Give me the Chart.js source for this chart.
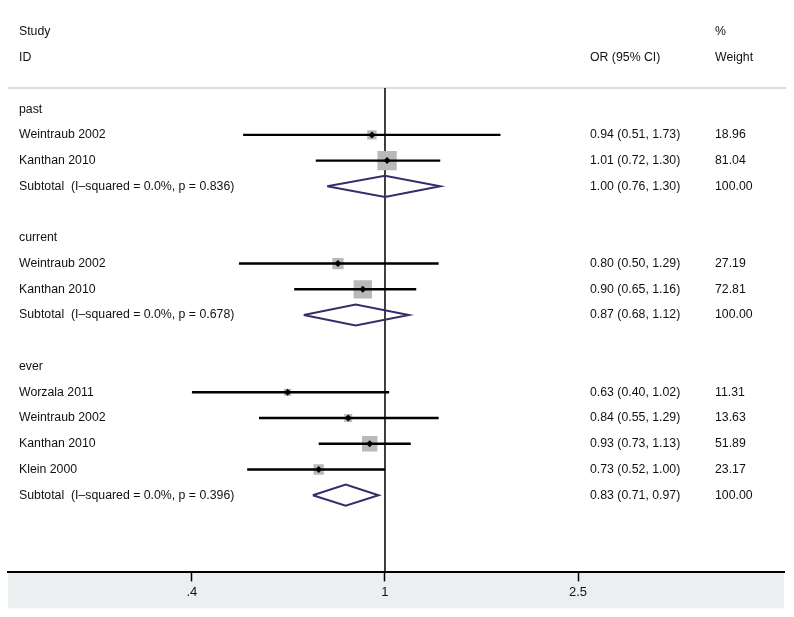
<!DOCTYPE html>
<html>
<head>
<meta charset="utf-8">
<script src="https://cdn.jsdelivr.net/npm/chart.js@4"></script>
<style>
  html, body { margin: 0; padding: 0; background: #fff; }
</style>
</head>
<body>
<canvas id="myChart" width="794" height="617"></canvas>
<script>
  // rows of the forest plot, top to bottom (first one sits at row 3)
  const rowLabels = [
    "past", "Weintraub 2002", "Kanthan 2010", "Subtotal  (I\u2013squared = 0.0%, p = 0.836)", "",
    "current", "Weintraub 2002", "Kanthan 2010", "Subtotal  (I\u2013squared = 0.0%, p = 0.678)", "",
    "ever", "Worzala 2011", "Weintraub 2002", "Kanthan 2010", "Klein 2000", "Subtotal  (I\u2013squared = 0.0%, p = 0.396)"
  ];
  const rowTypes = [
    "group", "study", "study", "subtotal", "blank",
    "group", "study", "study", "subtotal", "blank",
    "group", "study", "study", "study", "study", "subtotal"
  ];
  const orValues = [null, 0.94, 1.01, 1.00, null, null, 0.80, 0.90, 0.87, null, null, 0.63, 0.84, 0.93, 0.73, 0.83];
  const ciLower  = [null, 0.51, 0.72, 0.76, null, null, 0.50, 0.65, 0.68, null, null, 0.40, 0.55, 0.73, 0.52, 0.71];
  const ciUpper  = [null, 1.73, 1.30, 1.30, null, null, 1.29, 1.16, 1.12, null, null, 1.02, 1.29, 1.13, 1.00, 0.97];
  const weights  = [null, 18.96, 81.04, 100.00, null, null, 27.19, 72.81, 100.00, null, null, 11.31, 13.63, 51.89, 23.17, 100.00];

  const xTicks = [0.4, 1, 2.5];
  const xTickLabels = [".4", "1", "2.5"];

  const firstRow = 3;
  const sepRow = 2.18;
  const FONT = '"Liberation Sans", Arial, Helvetica, sans-serif';

  const whiskers = [];
  const squares = [];
  const squareSizes = [];
  const markers = [];
  const diamonds = [];
  rowTypes.forEach((t, i) => {
    const y = firstRow + i;
    if (t === "study") {
      whiskers.push({ x: ciLower[i], y: y }, { x: ciUpper[i], y: y }, { x: NaN, y: NaN });
      squares.push({ x: orValues[i], y: y });
      squareSizes.push(1.52 * Math.sqrt(weights[i]));
      markers.push({ x: orValues[i], y: y });
    } else if (t === "subtotal") {
      diamonds.push(
        { x: ciLower[i], y: y },
        { x: orValues[i], y: y - 0.41 },
        { x: ciUpper[i], y: y },
        { x: orValues[i], y: y + 0.41 },
        { x: ciLower[i], y: y },
        { x: NaN, y: NaN }
      );
    }
  });

  const forestText = {
    id: "forestText",
    beforeDraw(chart) {
      const ctx = chart.ctx;
      const a = chart.chartArea;
      const ys = chart.scales.y;
      ctx.save();
      ctx.fillStyle = "#eceff0";
      ctx.fillRect(a.left, a.bottom, a.right - a.left, 36);
      ctx.strokeStyle = "#d2d2d2";
      ctx.lineWidth = 1.5;
      const sy = ys.getPixelForValue(sepRow);
      ctx.beginPath();
      ctx.moveTo(a.left, sy);
      ctx.lineTo(a.right + 2, sy);
      ctx.stroke();
      ctx.restore();
    },
    afterDatasetsDraw(chart) {
      const ctx = chart.ctx;
      const ys = chart.scales.y;
      ctx.save();
      ctx.fillStyle = "#111";
      ctx.font = "12.3px " + FONT;
      ctx.textBaseline = "middle";
      ctx.textAlign = "left";
      const colStudy = 19, colOr = 590, colW = 715;
      ctx.fillText("Study", colStudy, ys.getPixelForValue(0));
      ctx.fillText("ID", colStudy, ys.getPixelForValue(1));
      ctx.fillText("OR (95% CI)", colOr, ys.getPixelForValue(1));
      ctx.fillText("%", colW, ys.getPixelForValue(0));
      ctx.fillText("Weight", colW, ys.getPixelForValue(1));
      rowLabels.forEach((lab, i) => {
        const y = ys.getPixelForValue(firstRow + i);
        if (lab) ctx.fillText(lab, colStudy, y);
        if (orValues[i] !== null) {
          ctx.fillText(orValues[i].toFixed(2) + " (" + ciLower[i].toFixed(2) + ", " + ciUpper[i].toFixed(2) + ")", colOr, y);
          ctx.fillText(weights[i].toFixed(2), colW, y);
        }
      });
      ctx.restore();
    }
  };

  const ctx = document.getElementById("myChart").getContext("2d");
  const myChart = new Chart(ctx, {
    type: "scatter",
    data: {
      datasets: [
        {
          data: [{ x: 1, y: sepRow }, { x: 1, y: 21 }],
          showLine: true,
          borderColor: "#111",
          borderWidth: 1.6,
          pointRadius: 0,
          order: 5,
        },
        {
          data: squares,
          pointStyle: "rect",
          pointRadius: squareSizes,
          backgroundColor: "#b9b9b9",
          borderWidth: 0,
          order: 4,
        },
        {
          data: whiskers,
          showLine: true,
          spanGaps: false,
          borderColor: "#000",
          borderWidth: 2.4,
          pointRadius: 0,
          order: 3,
        },
        {
          data: diamonds,
          showLine: true,
          spanGaps: false,
          borderColor: "#3b2b6b",
          borderWidth: 2,
          borderJoinStyle: "miter",
          pointRadius: 0,
          order: 2,
        },
        {
          data: markers,
          pointStyle: "rectRot",
          pointRadius: 3.5,
          backgroundColor: "#000",
          borderWidth: 0,
          order: 1,
        },
      ],
    },
    options: {
      responsive: false,
      animation: false,
      events: [],
      layout: { autoPadding: false, padding: { left: 8, right: 10, top: 8, bottom: 14 } },
      plugins: { legend: { display: false }, tooltip: { enabled: false } },
      scales: {
        x: {
          type: "logarithmic",
          min: 0.1671,
          max: 6.644,
          bounds: "data",
          border: { color: "#000", width: 2 },
          grid: { drawOnChartArea: false, tickLength: 9, tickColor: "#000", tickWidth: 1.5 },
          ticks: {
            color: "#111",
            font: { family: FONT, size: 13 },
            padding: 3,
            autoSkip: false,
            maxRotation: 0,
            callback: (v, i) => xTickLabels[i],
          },
          afterBuildTicks: (scale) => {
            scale.ticks = xTicks.map((v) => ({ value: v }));
          },
        },
        y: {
          type: "linear",
          display: false,
          reverse: true,
          min: -0.93,
          max: 21,
        },
      },
    },
    plugins: [forestText],
  });
</script>
</body>
</html>
